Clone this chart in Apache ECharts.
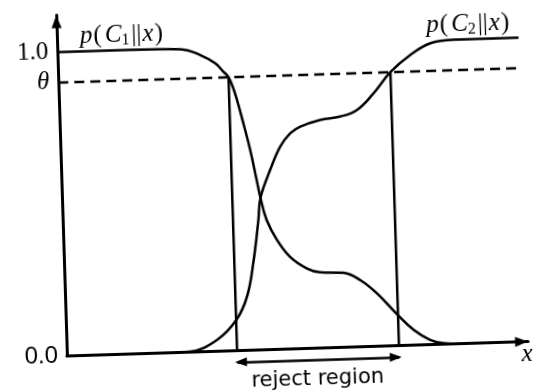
<!DOCTYPE html>
<html>
<head>
<meta charset="utf-8">
<script src="https://cdn.jsdelivr.net/npm/echarts/dist/echarts.min.js"></script>
<style>
  html, body { margin: 0; padding: 0; background: #fff; overflow: hidden; }
  #chart { width: 543px; height: 392px; transform: rotate(-1.8deg); transform-origin: 50% 50%; }
</style>
</head>
<body>
<div id="chart"></div>
<script>
// Posterior class probabilities along x, [x, p]
const c1Points = [
  [0, 1.0], [1.5, 1.0], [2.66, 0.997], [3.09, 0.976], [3.41, 0.947], [3.58, 0.919],
  [3.69, 0.9], [3.82, 0.846], [3.98, 0.747], [4.11, 0.659], [4.23, 0.559], [4.30, 0.5],
  [4.42, 0.426], [4.63, 0.36], [4.90, 0.303], [5.26, 0.263], [5.54, 0.249], [6.05, 0.245],
  [6.41, 0.219], [6.76, 0.174], [7.2, 0.1], [7.53, 0.05], [7.88, 0.015], [8.17, 0.003],
  [8.6, 0], [10, 0]
];
const c2Points = [
  [0, 0], [2.2, 0], [2.67, 0.002], [3.26, 0.037], [3.69, 0.1], [3.94, 0.176],
  [4.10, 0.286], [4.24, 0.427], [4.30, 0.5], [4.53, 0.591], [4.76, 0.666], [4.99, 0.709],
  [5.21, 0.73], [5.65, 0.75], [6.08, 0.759], [6.45, 0.779], [6.82, 0.832], [7.2, 0.9],
  [7.64, 0.954], [8.09, 0.991], [8.59, 1.0], [9.32, 1.0], [10, 1.0]
];
// Rejection threshold and the x range where neither posterior exceeds it
const theta = 0.9;
const rejectBounds = [3.69, 7.2];
// Y-axis tick values and their labels
const yTickValues = [0, 0.9, 1.0];
const yTickLabels = ['0.0', 'θ', '1.0'];
const yTickStyles = ['sans', 'th', 'serif'];
// Curve name labels: class index and anchor [x, p]
const curveLabelIndex = ['1', '2'];
const curveLabelAnchors = [[1.41, 1.05], [8.92, 1.05]];

const INK = '#000';
const SERIF = '"Liberation Serif", "DejaVu Serif", serif';
const SANS = '"Liberation Sans", "DejaVu Sans", sans-serif';

const labelRich = {
  it: { fontFamily: SERIF, fontStyle: 'italic', fontSize: 25, color: INK },
  rm: { fontFamily: SERIF, fontSize: 25, color: INK, padding: [0, 1, 0, 1] },
  cal: { fontFamily: SERIF, fontStyle: 'italic', fontSize: 25, color: INK, padding: [0, 0, 0, 2] },
  sub: { fontFamily: SERIF, fontSize: 16, color: INK, padding: [12, 1, 0, 0] }
};

function curveLabel(i) {
  return {
    coord: curveLabelAnchors[i],
    label: {
      show: true,
      position: 'inside',
      formatter: '{it|p}{rm|(}{cal|C}{sub|' + curveLabelIndex[i] + '}{rm|||}{it|x}{rm|)}',
      rich: labelRich
    }
  };
}

function curveSeries(points, i) {
  return {
    type: 'line',
    data: points,
    showSymbol: false,
    smooth: 0.4,
    lineStyle: { color: INK, width: 2.5 },
    z: 3,
    markPoint: {
      silent: true,
      symbol: 'circle',
      symbolSize: 1,
      itemStyle: { color: 'transparent' },
      data: [curveLabel(i)]
    }
  };
}

function segment(points, dashed) {
  return {
    type: 'line',
    data: points,
    showSymbol: false,
    lineStyle: { color: INK, width: 2.5, type: dashed ? [10, 6] : 'solid' },
    z: 2
  };
}

const chart = echarts.init(document.getElementById('chart'), null, { renderer: 'canvas' });

chart.setOption({
  animation: false,
  backgroundColor: '#fff',
  grid: [
    { left: 62, right: 19.6, top: 8.4, bottom: 42.5, outerBoundsMode: 'none', containLabel: false },
    { left: 62, right: 19.6, top: 352, height: 18, outerBoundsMode: 'none', containLabel: false }
  ],
  xAxis: [
    {
      type: 'value', min: 0, max: 10, gridIndex: 0,
      axisLine: {
        show: true, symbol: ['none', 'triangle'], symbolSize: [10, 13], symbolOffset: [0, -6.5],
        lineStyle: { color: INK, width: 3 }
      },
      axisTick: { show: false }, axisLabel: { show: false }, splitLine: { show: false }
    },
    { type: 'value', min: 0, max: 10, gridIndex: 1, show: false }
  ],
  yAxis: [
    {
      type: 'value', min: 0, max: 1.122, interval: 0.1, gridIndex: 0,
      axisLine: {
        show: true, symbol: ['none', 'triangle'], symbolSize: [10, 13], symbolOffset: [0, -6.5],
        lineStyle: { color: INK, width: 3 }
      },
      axisTick: { show: false }, splitLine: { show: false },
      axisLabel: {
        margin: 9,
        showMinLabel: true, showMaxLabel: true,
        formatter: function (v) {
          const idx = yTickValues.findIndex(t => Math.abs(t - v) < 1e-6);
          if (idx < 0) return '';
          return '{' + yTickStyles[idx] + '|' + yTickLabels[idx] + '}';
        },
        rich: {
          sans: { fontFamily: SANS, fontSize: 24, color: INK },
          serif: { fontFamily: SERIF, fontSize: 25, color: INK },
          th: { fontFamily: SERIF, fontStyle: 'italic', fontSize: 25, color: INK }
        }
      }
    },
    { type: 'value', min: 0, max: 1, gridIndex: 1, show: false }
  ],
  series: [
    curveSeries(c1Points, 0),
    curveSeries(c2Points, 1),
    segment([[0, theta], [10, theta]], true),
    segment([[rejectBounds[0], 0], [rejectBounds[0], theta]], false),
    segment([[rejectBounds[1], 0], [rejectBounds[1], theta]], false),
    {
      type: 'line',
      xAxisIndex: 1, yAxisIndex: 1,
      data: [],
      markLine: {
        silent: true,
        symbol: ['triangle', 'triangle'],
        symbolSize: [9, 12],
        symbolOffset: [[0, 3.5], [0, 3.5]],
        lineStyle: { color: INK, width: 2.5, type: 'solid' },
        label: { show: false },
        emphasis: { disabled: true },
        data: [[{ coord: [rejectBounds[0], 0.5] }, { coord: [rejectBounds[1], 0.5] }]]
      }
    }
  ],
  graphic: [
    {
      type: 'text', x: 522, y: 362, silent: true,
      style: { text: 'x', font: 'italic 25px "Liberation Serif"', fill: INK, align: 'center', verticalAlign: 'middle' }
    },
    {
      type: 'text', x: 312, y: 381, silent: true,
      style: { text: 'reject region', font: '21px "DejaVu Sans"', fill: INK, align: 'center', verticalAlign: 'middle' }
    }
  ]
});
</script>
</body>
</html>
